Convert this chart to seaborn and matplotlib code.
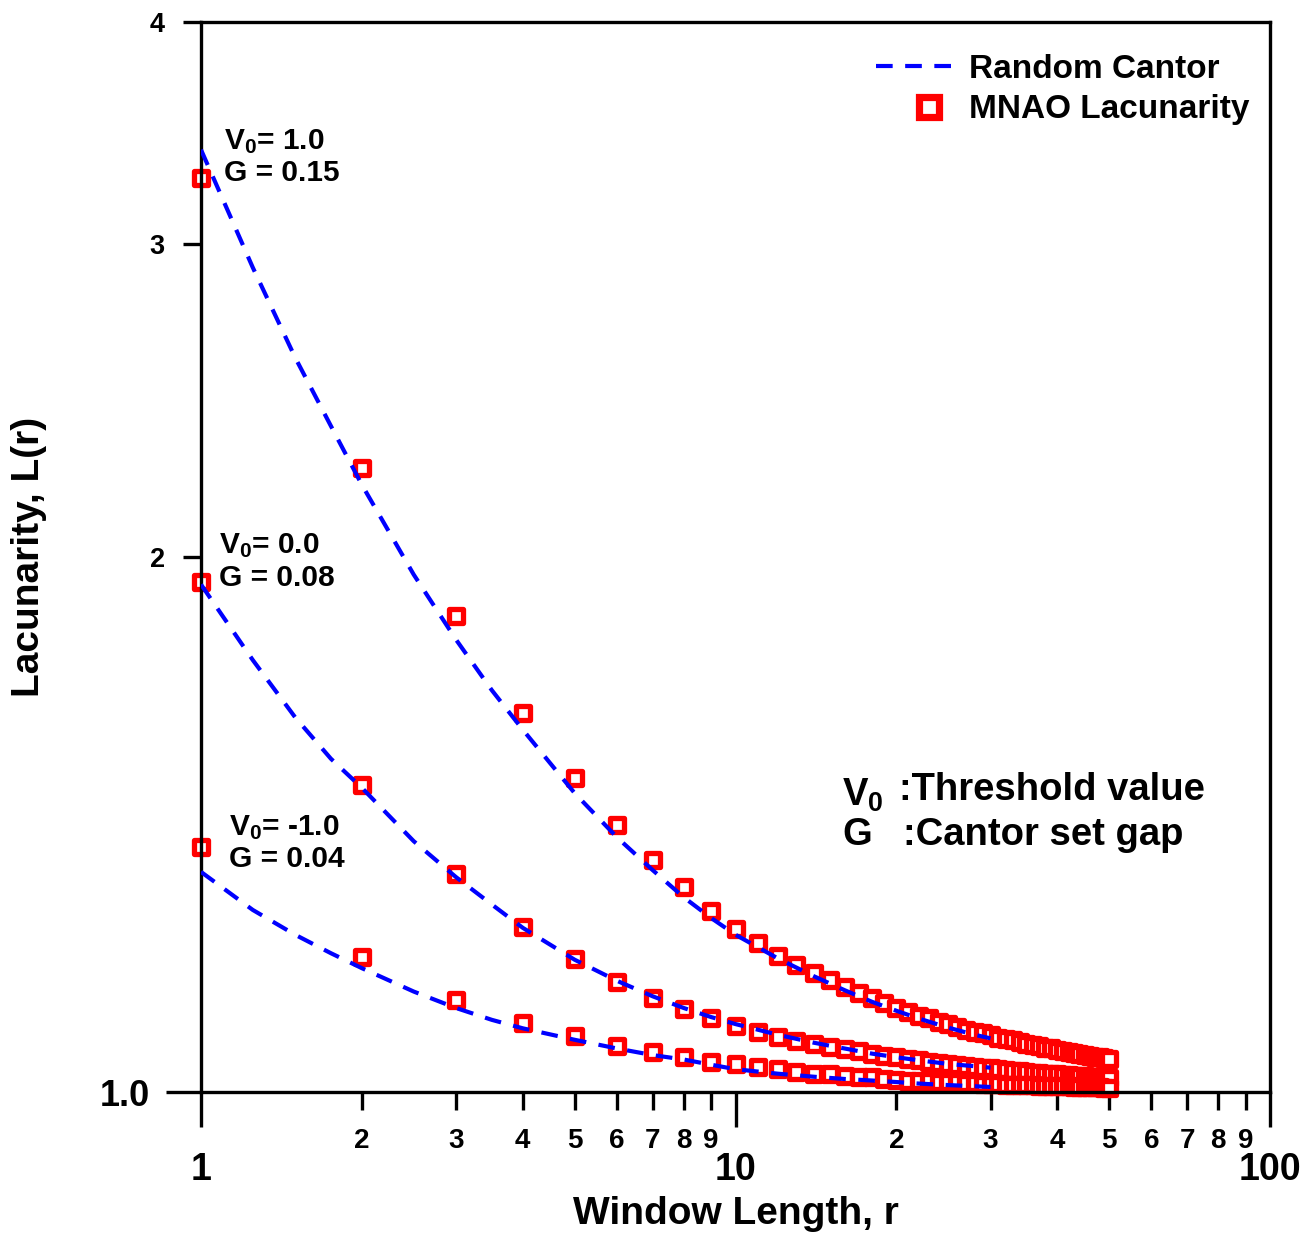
import matplotlib
matplotlib.use("Agg")
import matplotlib.pyplot as plt
import seaborn as sns
import pandas as pd
from matplotlib.ticker import FixedLocator, FixedFormatter
from matplotlib.lines import Line2D
from matplotlib.legend_handler import HandlerLine2D

# ---------------- data ----------------
r_points = list(range(1, 51))
mnao_top = [3.27, 2.245, 1.853, 1.634, 1.502, 1.413, 1.351, 1.304, 1.264, 1.235,
            1.213, 1.193, 1.179, 1.167, 1.156, 1.146, 1.137, 1.130, 1.122, 1.115,
            1.109, 1.104, 1.100, 1.095, 1.092, 1.088, 1.084, 1.081, 1.079, 1.076,
            1.073, 1.071, 1.069, 1.067, 1.064, 1.063, 1.061, 1.059, 1.058, 1.056,
            1.055, 1.053, 1.052, 1.051, 1.049, 1.048, 1.047, 1.046, 1.045, 1.044]
mnao_mid = [1.936, 1.489, 1.326, 1.238, 1.188, 1.153, 1.129, 1.114, 1.101, 1.089,
            1.081, 1.074, 1.068, 1.064, 1.060, 1.057, 1.054, 1.051, 1.048, 1.046,
            1.044, 1.042, 1.040, 1.038, 1.037, 1.035, 1.034, 1.033, 1.032, 1.031,
            1.030, 1.029, 1.028, 1.027, 1.026, 1.0255, 1.025, 1.024, 1.0235, 1.023,
            1.0225, 1.022, 1.0215, 1.021, 1.0205, 1.020, 1.0195, 1.019, 1.0188, 1.0185]
mnao_bot = [1.374, 1.191, 1.127, 1.094, 1.075, 1.061, 1.053, 1.046, 1.040, 1.037,
            1.033, 1.030, 1.026, 1.024, 1.023, 1.021, 1.020, 1.019, 1.017, 1.016,
            1.015, 1.0145, 1.014, 1.0135, 1.013, 1.0125, 1.012, 1.0115, 1.011, 1.0105,
            1.010, 1.0097, 1.0094, 1.0091, 1.0088, 1.0085, 1.0082, 1.008, 1.0078, 1.0076,
            1.0074, 1.0072, 1.007, 1.0068, 1.0066, 1.0064, 1.0062, 1.006, 1.0058, 1.0056]

r_line = [1, 1.25, 1.5, 1.75, 2, 2.5, 3, 3.5, 4, 5, 6, 7, 8, 9, 10,
          12, 14, 16, 18, 20, 22, 25, 28, 30]
cantor_top = [3.39, 2.91, 2.59, 2.37, 2.196, 1.955, 1.797, 1.683, 1.599, 1.473,
              1.391, 1.333, 1.287, 1.253, 1.226, 1.189, 1.162, 1.141, 1.124, 1.111,
              1.100, 1.087, 1.077, 1.072]
cantor_mid = [1.93, 1.75, 1.625, 1.54, 1.483, 1.384, 1.321, 1.275, 1.237, 1.187,
              1.155, 1.132, 1.115, 1.102, 1.092, 1.077, 1.066, 1.058, 1.051, 1.046,
              1.042, 1.037, 1.034, 1.032]
cantor_bot = [1.330, 1.266, 1.226, 1.197, 1.174, 1.139, 1.115, 1.098, 1.086, 1.070,
              1.058, 1.049, 1.043, 1.036, 1.030, 1.024, 1.020, 1.017, 1.015, 1.013,
              1.011, 1.009, 1.0075, 1.0065]

x_major = [1, 10, 100]
x_major_labels = ["1", "10", "100"]
x_minor = [2, 3, 4, 5, 6, 7, 8, 9, 20, 30, 40, 50, 60, 70, 80, 90]
x_minor_labels = ["2", "3", "4", "5", "6", "7", "8", "9",
                  "2", "3", "4", "5", "6", "7", "8", "9"]
y_major = [1.0]
y_major_labels = ["1.0"]
y_minor = [2, 3, 4]
y_minor_labels = ["2", "3", "4"]

# ---------------- style ----------------
sns.set_style("ticks")
plt.rcParams.update({
    "font.family": ["Liberation Sans", "DejaVu Sans"],
    "font.weight": "bold",
    "axes.labelweight": "bold",
    "mathtext.fontset": "custom",
    "mathtext.rm": "Liberation Sans:bold",
    "mathtext.bf": "Liberation Sans:bold",
    "mathtext.it": "Liberation Sans:bold",
    "lines.scale_dashes": False,
    "axes.edgecolor": "black",
    "axes.labelcolor": "black",
    "text.color": "black",
    "xtick.color": "black",
    "ytick.color": "black",
    "xtick.labelcolor": "black",
    "ytick.labelcolor": "black",
})

W, H = 1306, 1234
fig = plt.figure(figsize=(W / 100, H / 100), dpi=100)
ax = fig.add_axes([201 / W, 1 - 1092 / H, (1270 - 201) / W, (1092 - 22) / H])

pts = pd.DataFrame({
    "r": r_points * 3,
    "L": mnao_top + mnao_mid + mnao_bot,
})
sns.scatterplot(data=pts, x="r", y="L", ax=ax, marker="s", s=100,
                color="white", edgecolor="red", linewidth=3.8, zorder=2,
                clip_on=False)

dash = (12, 9)
for vals in [cantor_top, cantor_mid, cantor_bot]:
    sns.lineplot(x=r_line, y=vals, ax=ax, color="blue", linewidth=3.0,
                 linestyle="--", zorder=3)
for ln in ax.lines:
    ln.set_dashes(dash)

ax.set_xscale("log")
ax.set_yscale("log")
ax.set_xlim(1, 100)
ax.set_ylim(1.0, 4.0)

ax.xaxis.set_major_locator(FixedLocator(x_major))
ax.xaxis.set_major_formatter(FixedFormatter(x_major_labels))
ax.xaxis.set_minor_locator(FixedLocator(x_minor))
ax.xaxis.set_minor_formatter(FixedFormatter(x_minor_labels))
ax.yaxis.set_major_locator(FixedLocator(y_major))
ax.yaxis.set_major_formatter(FixedFormatter(y_major_labels))
ax.yaxis.set_minor_locator(FixedLocator(y_minor))
ax.yaxis.set_minor_formatter(FixedFormatter(y_minor_labels))

ax.tick_params(axis="x", which="major", direction="out", length=25, width=2.4,
               labelsize=27, pad=18)
ax.tick_params(axis="x", which="minor", direction="out", length=13, width=2.4,
               labelsize=20, pad=13)
ax.tick_params(axis="y", which="major", direction="out", length=25, width=2.4,
               labelsize=26, pad=12)
ax.tick_params(axis="y", which="minor", direction="out", length=13, width=2.4,
               labelsize=19.5, pad=13)
for lab in ax.get_xticklabels(which="both") + ax.get_yticklabels(which="both"):
    lab.set_fontweight("bold")
    lab.set_color("black")
for sp in ax.spines.values():
    sp.set_linewidth(2.4)
    sp.set_visible(True)

ax.set_xlabel("Window Length, r", fontsize=28, fontweight="bold", labelpad=6)
ax.set_ylabel("Lacunarity, L(r)", fontsize=28, fontweight="bold", labelpad=38)


class RightMarkerHandler(HandlerLine2D):
    """Place the legend marker toward the right of its handle box."""

    def create_artists(self, legend, orig_handle, xdescent, ydescent,
                       width, height, fontsize, trans):
        arts = super().create_artists(legend, orig_handle, xdescent, ydescent,
                                      width, height, fontsize, trans)
        for a in arts:
            if a.get_marker() not in (None, "None", "none", ""):
                a.set_xdata([0.69 * width - xdescent])
        return arts


# legend
h_line = Line2D([], [], color="blue", linewidth=3.0, dashes=dash)
h_mark = Line2D([], [], color="red", marker="s", linestyle="none", markersize=14,
                markerfacecolor="white", markeredgewidth=5.2)
ax.legend([h_line, h_mark], ["Random Cantor", "MNAO Lacunarity"], loc="upper right",
          frameon=False, prop={"size": 24, "weight": "bold"}, numpoints=1,
          handlelength=2.3, handletextpad=0.5, labelspacing=0.28,
          borderaxespad=0.3, bbox_to_anchor=(1.003, 0.992),
          handler_map={h_mark: RightMarkerHandler(numpoints=1)})


def ftext(x, y, s, size, **kw):
    fig.text(x / W, 1 - y / H, s, fontsize=size, fontweight="bold",
             va="center", ha="left", color="black", **kw)


ftext(224, 142, r"$\mathbf{V_0}$= 1.0", 21.5)
ftext(224, 173, "G = 0.15", 21.5)
ftext(219, 546, r"$\mathbf{V_0}$= 0.0", 21.5)
ftext(219, 578, "G = 0.08", 21.5)
ftext(229, 828, r"$\mathbf{V_0}$= -1.0", 21.5)
ftext(229, 859, "G = 0.04", 21.5)

ftext(842, 795, r"$\mathbf{V_0}$", 27.5)
ftext(899, 790, ":Threshold value", 27.5)
ftext(842, 835, "G", 27.5)
ftext(903, 835, ":Cantor set gap", 27.5)

fig.savefig("out.png", dpi=100)
